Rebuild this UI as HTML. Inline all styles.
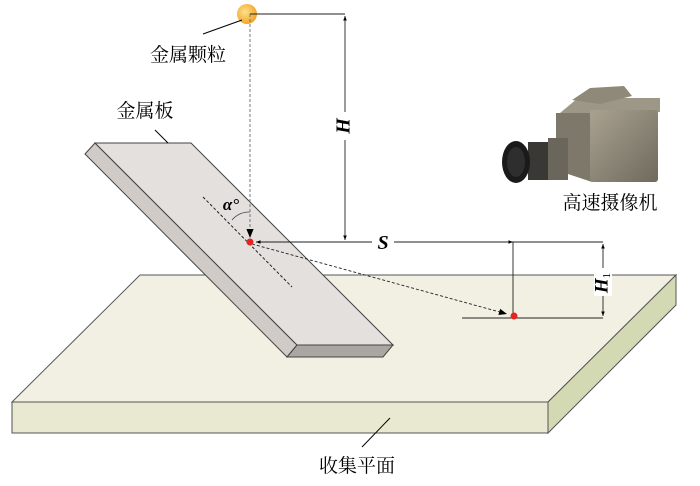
<!DOCTYPE html>
<html><head><meta charset="utf-8"><style>
body{margin:0;background:#fff}
svg{display:block}
text{font-family:"Liberation Serif","Noto Serif CJK SC",serif}
.cn{font-family:"Noto Serif CJK SC","Liberation Serif",serif}
</style></head><body>
<svg width="700" height="486" viewBox="0 0 700 486" xmlns="http://www.w3.org/2000/svg">
<defs>
<radialGradient id="ball" cx="0.4" cy="0.4" r="0.6"><stop offset="0" stop-color="#fde08a"/><stop offset="1" stop-color="#f2a62a"/></radialGradient>
<linearGradient id="cam" x1="0" y1="0" x2="1" y2="1"><stop offset="0" stop-color="#a9a291"/><stop offset="1" stop-color="#6e6a5c"/></linearGradient>
<marker id="ar" viewBox="0 0 10 10" refX="10" refY="5" markerWidth="9" markerHeight="9" orient="auto-start-reverse"><path d="M0,1 L10,5 L0,9 z" fill="#000"/></marker>
<marker id="sa" viewBox="0 0 10 10" refX="10" refY="5" markerWidth="5" markerHeight="5" orient="auto-start-reverse"><path d="M0,1 L10,5 L0,9 z" fill="#000"/></marker>
</defs>
<polygon points="140,275 676,275 548,402 12,402" fill="#f2f0e3" stroke="#555" stroke-width="1"/>
<polygon points="12,402 548,402 548,433 12,433" fill="#e8e9d0" stroke="#555" stroke-width="1"/>
<polygon points="676,275 676,305 548,433 548,402" fill="#d3dab3" stroke="#555" stroke-width="1"/>
<polygon points="85,154 95,143 297,345 287,357" fill="#d1cbc8" stroke="#444" stroke-width="1"/>
<polygon points="95,143 191,143 393,345 297,345" fill="#e4e0de" stroke="#444" stroke-width="1"/>
<polygon points="297,345 393,345 383,357 287,357" fill="#aca6a3" stroke="#444" stroke-width="1"/>
<line x1="203" y1="197" x2="292" y2="287" stroke="#222" stroke-width="1" stroke-dasharray="3,2"/>
<path d="M232,220 A22,22 0 0 1 250,212" fill="none" stroke="#444" stroke-width="0.8"/>
<circle cx="247" cy="14" r="10" fill="url(#ball)"/>
<line x1="250" y1="14" x2="250" y2="238" stroke="#777" stroke-width="1" stroke-dasharray="3,2" marker-end="url(#ar)"/>
<line x1="250" y1="14" x2="345" y2="14" stroke="#222" stroke-width="0.9"/>
<line x1="345" y1="16" x2="345" y2="240" stroke="#222" stroke-width="0.9" marker-start="url(#sa)" marker-end="url(#sa)"/>
<rect x="336" y="112" width="18" height="28" fill="#fff"/>
<text x="345" y="126" font-size="20" font-style="italic" text-anchor="middle" transform="rotate(-90 345 126)" dominant-baseline="middle" font-weight="bold">H</text>
<line x1="256" y1="242" x2="440" y2="242" stroke="#222" stroke-width="0.9" marker-start="url(#sa)"/>
<line x1="440" y1="242" x2="513" y2="242" stroke="#222" stroke-width="0.9" marker-end="url(#sa)"/>
<line x1="513" y1="242" x2="603" y2="242" stroke="#222" stroke-width="0.9"/>
<rect x="372" y="232" width="22" height="20" fill="#fff"/>
<text x="383" y="249" font-size="20" font-style="italic" font-weight="bold" text-anchor="middle">S</text>
<line x1="513" y1="242" x2="513" y2="316" stroke="#222" stroke-width="0.9"/>
<line x1="462" y1="318" x2="603" y2="318" stroke="#222" stroke-width="0.9"/>
<line x1="603" y1="244" x2="603" y2="316" stroke="#222" stroke-width="0.9" marker-start="url(#sa)" marker-end="url(#sa)"/>
<rect x="594" y="268" width="18" height="28" fill="#fff"/>
<text x="603" y="283" font-size="19" font-style="italic" font-weight="bold" text-anchor="middle" dominant-baseline="middle" transform="rotate(-90 603 283)">H<tspan font-size="11" font-weight="normal" font-style="normal" dy="4">1</tspan></text>
<line x1="252" y1="244" x2="507" y2="314" stroke="#222" stroke-width="0.9" stroke-dasharray="3,2" marker-end="url(#ar)"/>
<circle cx="250" cy="242" r="3.5" fill="#e52420"/>
<circle cx="514" cy="316" r="3.5" fill="#e52420"/>
<text x="231" y="210" font-size="17" font-style="italic" font-weight="bold" text-anchor="middle">α°</text>
<line x1="203" y1="34" x2="242" y2="20" stroke="#000" stroke-width="1"/>
<text class="cn" x="188" y="61" font-size="19" text-anchor="middle">金属颗粒</text>
<line x1="155" y1="130" x2="168" y2="143" stroke="#000" stroke-width="1"/>
<text class="cn" x="145" y="117" font-size="19" text-anchor="middle">金属板</text>
<line x1="390" y1="418" x2="362" y2="447" stroke="#000" stroke-width="1"/>
<text class="cn" x="357" y="472" font-size="19" text-anchor="middle">收集平面</text>
<text class="cn" x="610" y="209" font-size="19" text-anchor="middle">高速摄像机</text>
<polygon points="560,113 578,98 660,98 660,112 590,113" fill="#9d9788"/>
<polygon points="572,100 590,88 624,86 632,96 600,104" fill="#8f897a"/>
<polygon points="556,113 592,113 592,182 556,170" fill="#7d786a"/>
<rect x="590" y="110" width="68" height="72" fill="url(#cam)" rx="3"/>
<rect x="528" y="142" width="40" height="38" fill="#3a3835"/>
<rect x="548" y="138" width="20" height="42" fill="#6b665c"/>
<ellipse cx="516" cy="162" rx="14" ry="21" fill="#1a1a1a"/>
<ellipse cx="516" cy="162" rx="9" ry="15" fill="#2e2e2e"/>
</svg>
</body></html>
